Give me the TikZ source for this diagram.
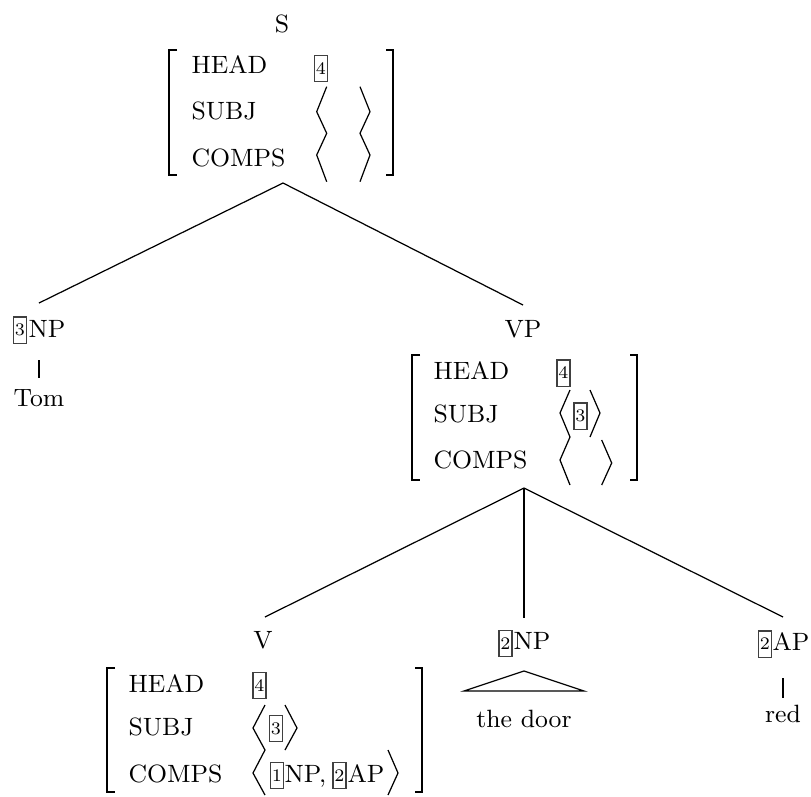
\documentclass[tikz,border=0pt]{standalone}
\begin{document}
\begin{tikzpicture}[x=0.3676pt,y=-0.3676pt,
  every node/.style={font=\fontsize{9.2}{11}\selectfont},
  lbl/.style={anchor=base, inner sep=0pt},
  feat/.style={anchor=base west, inner sep=0pt},
  txt/.style={anchor=base west, inner sep=0pt},
  tag/.style={draw=black!75, line width=0.4pt, inner sep=0pt, minimum width=4.8pt, minimum height=9.6pt, font=\fontsize{6.5}{7}\selectfont},
  brk/.style={line width=0.8pt},
  ang/.style={line width=0.45pt},
  edge/.style={line width=0.45pt}]
\useasboundingbox (0,0) rectangle (811,796);

% ---------- S ----------
\node[lbl] (S) at (282,32) {S};
\draw[brk] (177,50) -- (169,50) -- (169,175) -- (177,175);
\draw[brk] (386,50) -- (393,50) -- (393,175) -- (386,175);
\node[feat] (Shead) at (191,73) {HEAD};
\node[feat] (Ssubj) at (191,119) {SUBJ};
\node[feat] (Scomps) at (191,166) {COMPS};
\node[tag] (S4) at (321,68.5) {4};
\draw[ang] (326.7,86.7) -- (316.7,111.7) -- (326.7,133.3) -- (316.7,155) -- (326.7,181.7);
\draw[ang] (360,86.7) -- (370,111.7) -- (360,133.3) -- (370,155) -- (360,181.7);
\coordinate (Sbot) at (283,183);

% ---------- NP (Tom) ----------
\coordinate (NPatop) at (39,303);
\node[tag] (NPa3) at (20,330) {3};
\node[txt] (NPa) at (28,337) {NP};
\coordinate (NPabot) at (39,360);
\coordinate (Tomtop) at (39,378);
\node[lbl] (Tom) at (39,406) {Tom};

% ---------- VP ----------
\coordinate (VPtop) at (523,305);
\node[lbl] (VP) at (523,337) {VP};
\draw[brk] (420,355) -- (412,355) -- (412,480) -- (420,480);
\draw[brk] (630,355) -- (637,355) -- (637,480) -- (630,480);
\node[feat] (VPhead) at (433,379) {HEAD};
\node[feat] (VPsubj) at (433,422) {SUBJ};
\node[feat] (VPcomps) at (433,468) {COMPS};
\node[tag] (VP4) at (563.5,373) {4};
\node[tag] (VP3) at (580.5,416) {3};
\draw[ang] (570,390) -- (560,413) -- (570,437) -- (560,460) -- (570,485);
\draw[ang] (590,390) -- (600,413) -- (590,437);
\draw[ang] (601.7,440) -- (611.7,463) -- (601.7,485);
\coordinate (VPbot) at (524,488);

% ---------- V ----------
\coordinate (Vtop) at (265,617);
\node[lbl] (V) at (263,648) {V};
\draw[brk] (115,668) -- (107,668) -- (107,792) -- (115,792);
\draw[brk] (415,668) -- (422,668) -- (422,792) -- (415,792);
\node[feat] (Vhead) at (128,692) {HEAD};
\node[feat] (Vsubj) at (128,735) {SUBJ};
\node[feat] (Vcomps) at (128,782) {COMPS};
\node[tag] (V4) at (259.5,685.5) {4};
\node[tag] (V3) at (276,728.5) {3};
\draw[ang] (265,705) -- (253,728) -- (265,750) -- (253,773) -- (265,795);
\draw[ang] (285,705) -- (297,728) -- (285,750);
\node[tag] (V1) at (277,775.5) {1};
\node[txt] (VNP) at (284,782) {NP,};
\node[tag] (V2) at (339.5,775.5) {2};
\node[txt] (VAP) at (347,782) {AP};
\draw[ang] (388,750) -- (398,773) -- (388,795);

% ---------- NP (the door) ----------
\coordinate (NPbtop) at (524,618);
\node[tag] (NPb2) at (505.5,643.5) {2};
\node[txt] (NPb) at (513,649) {NP};
\coordinate (TriA) at (524,671);
\coordinate (TriL) at (464,691);
\coordinate (TriR) at (584,691);
\draw[edge] (TriA) -- (TriL) -- (TriR) -- cycle;
\node[lbl] (door) at (524,727) {the door};

% ---------- AP (red) ----------
\coordinate (APtop) at (783,617);
\node[tag] (AP2) at (765,644) {2};
\node[txt] (AP) at (772,650) {AP};
\coordinate (APbot) at (783,678);
\coordinate (redtop) at (783,698);
\node[lbl] (red) at (783,722) {red};

% ---------- edges ----------
\draw[edge] (Sbot) -- (NPatop);
\draw[edge] (Sbot) -- (VPtop);
\draw[edge] (NPabot) -- (Tomtop);
\draw[edge] (VPbot) -- (Vtop);
\draw[edge] (VPbot) -- (NPbtop);
\draw[edge] (VPbot) -- (APtop);
\draw[edge] (APbot) -- (redtop);
\end{tikzpicture}
\end{document}
